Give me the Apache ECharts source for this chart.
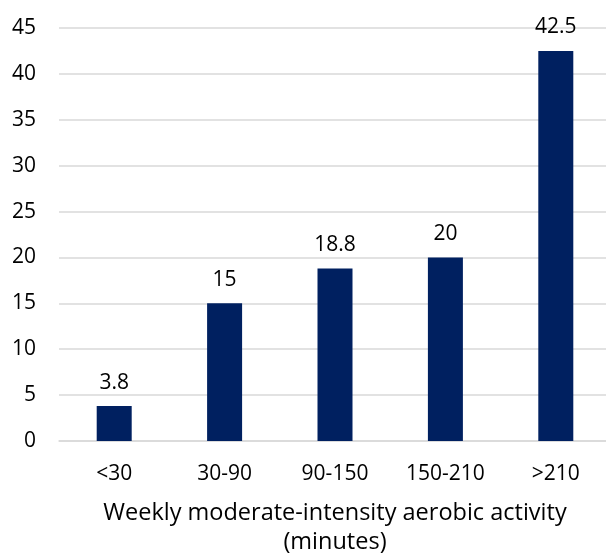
<!DOCTYPE html>
<html><head><meta charset="utf-8">
<script src="https://cdn.jsdelivr.net/npm/echarts@6/dist/echarts.min.js"></script>
<style>html,body{margin:0;padding:0;background:#fff;overflow:hidden}#c{width:606px;height:555px}</style>
</head><body><div id="c"></div>
<script>
const categories = ['<30', '30-90', '90-150', '150-210', '>210'];
const values = [3.8, 15, 18.8, 20, 42.5];
const yTicks = { min: 0, max: 45, interval: 5 };
const xTitle = 'Weekly moderate-intensity aerobic activity\n(minutes)';

const font = '"Open Sans", "Liberation Sans", sans-serif';
const fs = 21;
const chart = echarts.init(document.getElementById('c'), null, { renderer: 'canvas' });
chart.setOption({
  animation: false,
  grid: { left: 59, right: -5, top: 28, bottom: 114, containLabel: false, outerBoundsMode: 'none' },
  xAxis: {
    type: 'category', data: categories,
    axisLine: { show: true, lineStyle: { color: '#d9d9d9', width: 1.5 } },
    axisTick: { show: false },
    axisLabel: { color: '#000', fontFamily: font, fontSize: fs, margin: 23 },
    name: xTitle, nameLocation: 'middle', nameGap: 58,
    nameTextStyle: { color: '#000', fontFamily: font, fontSize: 23.5, lineHeight: 29 }
  },
  yAxis: {
    type: 'value', min: yTicks.min, max: yTicks.max, interval: yTicks.interval,
    axisLine: { show: false }, axisTick: { show: false },
    splitLine: { lineStyle: { color: '#d9d9d9', width: 1.5 } },
    axisLabel: { color: '#000', fontFamily: font, fontSize: fs, margin: 23 }
  },
  series: [{
    type: 'bar', data: values, barWidth: 35,
    itemStyle: { color: '#002060' },
    label: { show: true, position: 'top', distance: 13, color: '#000', fontFamily: font, fontSize: fs }
  }]
});
</script></body></html>
